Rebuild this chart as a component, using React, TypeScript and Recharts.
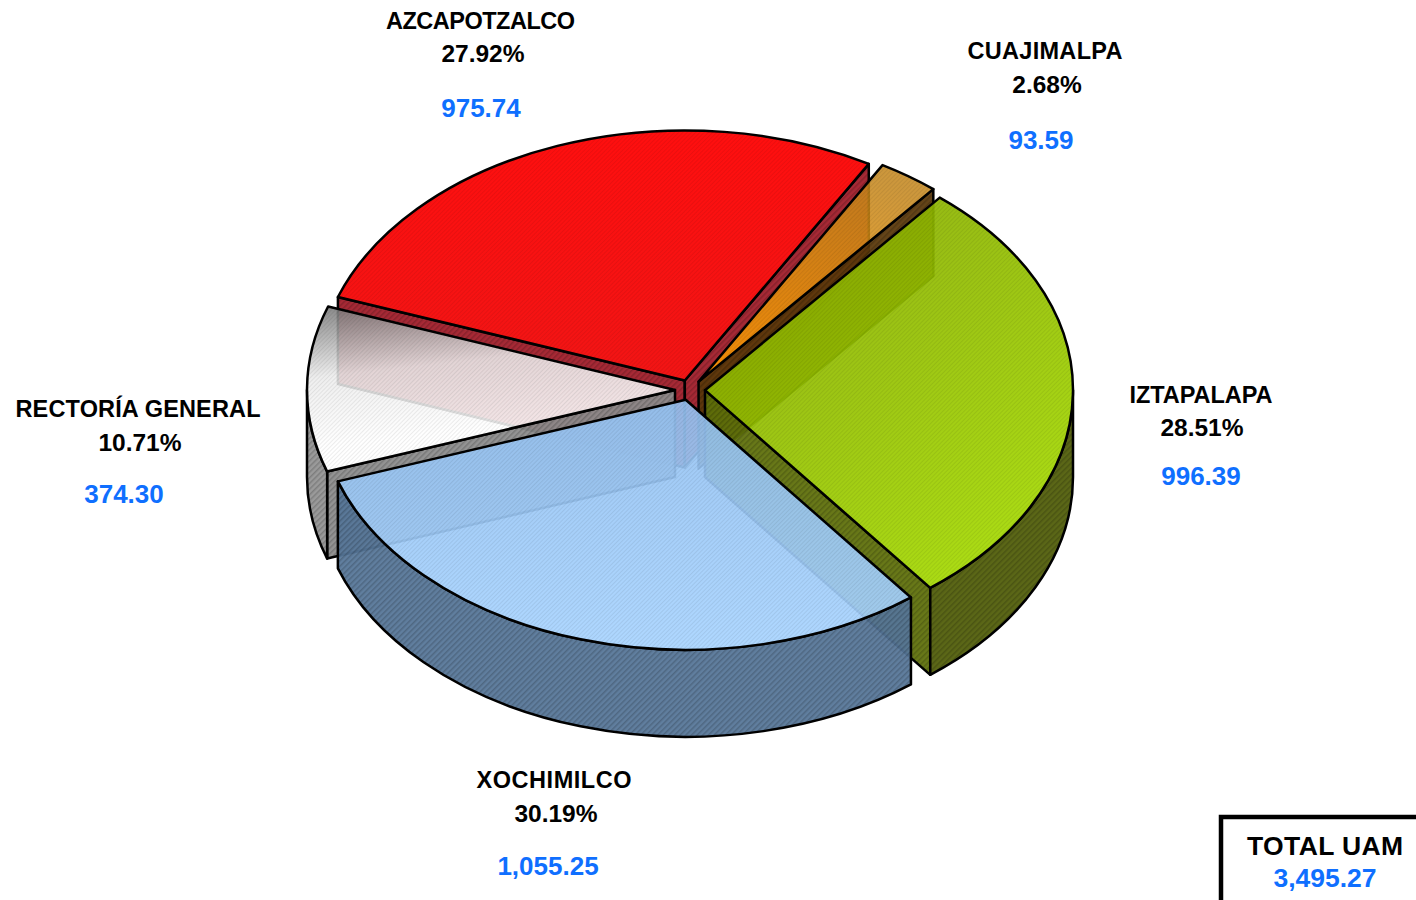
import React from 'react';
import { PieChart, Pie } from 'recharts';

const units = ['AZCAPOTZALCO', 'CUAJIMALPA', 'IZTAPALAPA', 'XOCHIMILCO', 'RECTORÍA GENERAL'];
const amounts = [975.74, 93.59, 996.39, 1055.25, 374.3];
const amountLabels = ['975.74', '93.59', '996.39', '1,055.25', '374.30'];
const percents = ['27.92%', '2.68%', '28.51%', '30.19%', '10.71%'];
const data = units.map((name, i) => ({ name, value: amounts[i] }));

// x of name / percent / value, then baselines, then width of the name
const labelPos = [
	[480.5, 483, 481, 29, 62, 117, 189],
	[1045, 1047, 1041, 59, 93, 149, 155],
	[1201, 1202, 1201, 403, 436, 485, 143],
	[554, 556, 548, 788, 822, 875, 155],
	[138, 140, 124, 417, 451, 503, 245]
];

const wallColors = ['#a01c28', '#5a380a', '#5f700a', '#5d7da3', '#8c8c8c'];
const rimColors = ['#8c1a20', '#5a380a', '#515e08', '#567698', '#949494'];
const topOpacity = [0.98, 0.86, 0.92, 0.92, 0.88];

const CX = 690;
const CY = 390;
const RX = 368;
const RY = 250;
const DEPTH = 87;
const EXPLODE = 15;
const BLUE = '#0f6fff';

const toRad = (d: number) => (d * Math.PI) / 180;

const Slice = (props: any, drawOnly: (i: number) => boolean) => {
	const i = units.indexOf(props.name);
	if (!drawOnly(i)) return <g />;

	// recharts angles -> clockwise from 12 o'clock
	const s = 90 - props.startAngle;
	const e = 90 - props.endAngle;
	const mid = toRad((s + e) / 2);
	const ox = CX + EXPLODE * Math.sin(mid);
	const oy = CY - EXPLODE * Math.cos(mid) * (RY / RX);
	const pt = (deg: number, drop = 0) =>
		`${ox + RX * Math.sin(toRad(deg))} ${oy - RY * Math.cos(toRad(deg)) + drop}`;
	const arc = (from: number, to: number, sweep: number) =>
		`A ${RX} ${RY} 0 ${Math.abs(to - from) > 180 ? 1 : 0} ${sweep} ${pt(to)}`;

	const top = `M ${ox} ${oy} L ${pt(s)} ${arc(s, e, 1)} Z`;
	const edgeWall = (deg: number) =>
		`M ${ox} ${oy} L ${pt(deg)} L ${pt(deg, DEPTH)} L ${ox} ${oy + DEPTH} Z`;

	const showStart = Math.sin(toRad(s)) < 0;
	const showEnd = Math.sin(toRad(e)) > 0;
	const rimFrom = Math.max(s, 90);
	const rimTo = Math.min(e, 270);
	const bottomArc = (a: number, b: number) =>
		`A ${RX} ${RY} 0 ${Math.abs(b - a) > 180 ? 1 : 0} 0 ${pt(b, DEPTH)}`;
	const rim =
		rimTo > rimFrom
			? `M ${pt(rimFrom)} ${arc(rimFrom, rimTo, 1)} L ${pt(rimTo, DEPTH)} ${bottomArc(rimTo, rimFrom)} Z`
			: null;

	const wallProps = { stroke: '#000', strokeWidth: 2.5, strokeLinejoin: 'round' as const };
	const wall = (d: string, color: string, key: string) => (
		<g key={key}>
			<path d={d} fill={color} fillOpacity={0.94} {...wallProps} />
			<path d={d} fill="url(#hatchWall)" />
		</g>
	);

	return (
		<g>
			{showStart && wall(edgeWall(s), wallColors[i], 'start')}
			{showEnd && wall(edgeWall(e), wallColors[i], 'end')}
			{rim && wall(rim, rimColors[i], 'rim')}
			<path d={top} fill={`url(#top${i})`} fillOpacity={topOpacity[i]} {...wallProps} />
			<path d={top} fill="url(#hatchTop)" />
		</g>
	);
};

const renderLabel = (props: any) => {
	const i = props.index;
	const p = labelPos[i];
	const font = { fontFamily: 'Liberation Sans, Arial, sans-serif', fontWeight: 700 };
	return (
		<g key={units[i]} style={font}>
			<text x={p[0]} y={p[3]} textAnchor="middle" fontSize={23.5} fill="#000" textLength={p[6]}>
				{units[i]}
			</text>
			<text x={p[1]} y={p[4]} textAnchor="middle" fontSize={24.5} fill="#000">
				{percents[i]}
			</text>
			<text x={p[2]} y={p[5]} textAnchor="middle" fontSize={26} fill={BLUE}>
				{amountLabels[i]}
			</text>
		</g>
	);
};

const TotalBox = () => (
	<g style={{ fontFamily: 'Liberation Sans, Arial, sans-serif', fontWeight: 700 }}>
		<rect x={1221} y={817} width={300} height={200} fill="#fff" stroke="#000" strokeWidth={4.5} />
		<text x={1325} y={855} textAnchor="middle" fontSize={26.5} fill="#000" textLength={156}>
			TOTAL UAM
		</text>
		<text x={1325} y={887} textAnchor="middle" fontSize={26.5} fill={BLUE}>
			3,495.27
		</text>
	</g>
);

const backSlices = (props: any) => Slice(props, i => i !== 3);
const frontSlice = (props: any) => Slice(props, i => i === 3);

const App = () => (
	<div style={{ position: 'absolute', left: 0, top: 0, width: 1416, height: 900, overflow: 'hidden' }}>
		<PieChart width={1416} height={900} margin={{ top: 0, right: 0, bottom: 0, left: 0 }}>
			<defs>
				<pattern id="hatchTop" width="3" height="3" patternUnits="userSpaceOnUse" patternTransform="rotate(-45)">
					<rect width="3" height="1" fill="#000" fillOpacity="0.07" />
				</pattern>
				<pattern id="hatchWall" width="4" height="4" patternUnits="userSpaceOnUse" patternTransform="rotate(-45)">
					<rect width="4" height="1.5" fill="#000" fillOpacity="0.18" />
				</pattern>
				<linearGradient id="top0" x1="0" y1="0" x2="0" y2="1">
					<stop offset="0" stopColor="#ff0a0a" />
					<stop offset="1" stopColor="#f21010" />
				</linearGradient>
				<linearGradient id="top1" x1="0.6" y1="0" x2="0.2" y2="1">
					<stop offset="0" stopColor="#c4861c" />
					<stop offset="1" stopColor="#ff9c00" />
				</linearGradient>
				<linearGradient id="top2" x1="0.2" y1="0" x2="0.8" y2="1">
					<stop offset="0" stopColor="#88ac00" />
					<stop offset="1" stopColor="#a6dc00" />
				</linearGradient>
				<linearGradient id="top3" x1="0" y1="0" x2="0" y2="1">
					<stop offset="0" stopColor="#95c2f2" />
					<stop offset="1" stopColor="#a8d4ff" />
				</linearGradient>
				<linearGradient id="top4" x1="0.05" y1="0" x2="0.25" y2="0.8">
					<stop offset="0" stopColor="#777777" />
					<stop offset="0.5" stopColor="#ececec" />
					<stop offset="1" stopColor="#ffffff" />
				</linearGradient>
			</defs>
			<Pie
				data={data}
				dataKey="value"
				nameKey="name"
				cx={CX}
				cy={CY}
				innerRadius={0}
				outerRadius={RX}
				startAngle={160.5}
				endAngle={-199.5}
				stroke="none"
				isAnimationActive={false}
				shape={backSlices}
				inactiveShape={backSlices}
				label={renderLabel}
				labelLine={false}
			/>
			<Pie
				data={data}
				dataKey="value"
				nameKey="name"
				cx={CX}
				cy={CY}
				innerRadius={0}
				outerRadius={RX}
				startAngle={160.5}
				endAngle={-199.5}
				stroke="none"
				isAnimationActive={false}
				shape={frontSlice}
				inactiveShape={frontSlice}
			/>
			<TotalBox />
		</PieChart>
	</div>
);

export default App;
